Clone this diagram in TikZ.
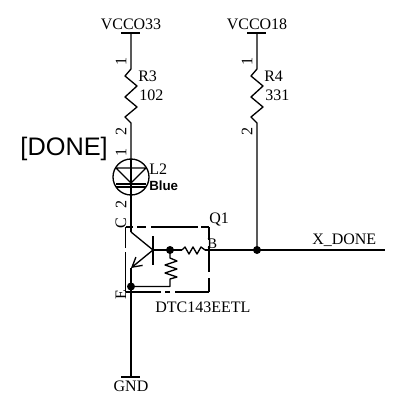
\documentclass[tikz,border=0pt]{standalone}
\usepackage{fontspec}
\setmainfont{Liberation Serif}
\newfontfamily\arialf{Liberation Sans}
\usetikzlibrary{arrows.meta}
\begin{document}
\begin{tikzpicture}[x=0.75pt,y=-0.75pt,line cap=butt,
  wire/.style={line width=1pt,black},
  boxline/.style={line width=0.9pt,black},
  lbl/.style={font=\fontsize{12}{13}\selectfont,inner sep=0pt,anchor=base west},
  pin/.style={font=\fontsize{12}{13}\selectfont,inner sep=0pt,rotate=90},
  junction/.style={circle,fill=black,inner sep=0pt,minimum size=6pt}]
\useasboundingbox (0,0) rectangle (398,406);
% named points
\coordinate (v33) at (131,33);
\coordinate (v18) at (257,33);
\coordinate (r3t) at (131,69);
\coordinate (r4t) at (257,69);
\coordinate (ledc) at (131,177);
\coordinate (col) at (131,232);
\coordinate (colb) at (153,250);
\coordinate (emt) at (131,268);
\coordinate (gnd) at (131,377);
\coordinate (net) at (385,250);
\coordinate (rh1) at (182,250);
\coordinate (rh2) at (205,250);
\coordinate (rv1) at (170,258);
\coordinate (rvc) at (170,286.5);
% power rails
\draw[wire] (121,33) -- (140,33);
\draw[wire] (247,33) -- (266,33);
\draw[wire] (121,377) -- (140,377);
\node[lbl,anchor=base] (nv33) at (131,30) {VCCO33};
\node[lbl,anchor=base] (nv18) at (257,30) {VCCO18};
\node[lbl,anchor=base] (ngnd) at (131,391) {GND};
% R3
\draw[wire,line join=round] (v33) -- (r3t) -- ++(-6,7) -- ++(12,10) -- ++(-12,11) -- ++(12,10) -- ++(-12,10) -- ++(6,6) -- (131,159);
% R4
\draw[wire,line join=round] (v18) -- (r4t) -- ++(-6,7) -- ++(12,10) -- ++(-12,11) -- ++(12,10) -- ++(-12,10) -- ++(6,6) -- (257,250);
\node[lbl] (r3n) at (138,82) {R3};
\node[lbl] (r3v) at (139,101) {102};
\node[lbl] (r4n) at (264,82) {R4};
\node[lbl] (r4v) at (265,101) {331};
\node[pin] (p31) at (121,62) {1};
\node[pin] (p32) at (121,132) {2};
\node[pin] (p41) at (247,62) {1};
\node[pin] (p42) at (247,132) {2};
% LED
\node[inner sep=0pt,anchor=base east,font=\arialf\fontsize{19}{21}\selectfont] (done) at (108,155) {[DONE]};
\node[pin] (pl1) at (121,152) {1};
\node[pin] (pl2) at (121,204) {2};
\node[pin] (pc) at (121,223) {C};
\draw[wire] (ledc) circle (18);
\draw[wire] (131,159) -- (col);
\draw[wire,line join=round] (116,168) -- (146,168) -- (131,183) -- cycle;
\draw[wire] (116,184) -- (146,184);
\draw[wire] (116,187) -- (146,187);
\node[lbl] (l2) at (149,174) {L2};
\node[inner sep=0pt,anchor=base west,font=\arialf\bfseries\fontsize{10}{11}\selectfont] (blue) at (149,190) {Blue};
% Q1 box, its gaps as printed
\draw[boxline] (125.5,227) -- (133,227) (137,227) -- (146,227) (151,227) -- (198,227) (201,227) -- (209,227)
  (209,227) -- (209,240) (209,246) -- (209,272) (209,278) -- (209,292)
  (209,292) -- (175,292) (170,292) -- (165,292) (161,292) -- (125.5,292)
  (125.5,292) -- (125.5,252) (125.5,248) -- (125.5,227);
\node[lbl] (q1) at (209,223) {Q1};
\node[lbl,font=\fontsize{11}{12}\selectfont] (b) at (207,248) {B};
\node[pin] (pe) at (121,295) {E};
\node[lbl] (dtc) at (155,312) {DTC143EETL};
% transistor
\draw[wire] (col) -- (colb);
\draw[line width=2pt] (153,236) -- (153,265);
\draw[wire,-{Straight Barb[length=7pt,width=8pt]}] (colb) -- (emt);
\draw[wire] (emt) -- (131,286.5);
\draw[wire] (colb) -- (rh1);
\draw[wire,line join=round] (rh1) -- ++(3,-3) -- ++(4,7) -- ++(4,-7) -- ++(4,7) -- ++(4,-7) -- ++(4,3) -- (rh2);
\draw[wire] (rh2) -- (net);
\draw[wire,line join=round] (170,250) -- (rv1) -- ++(7,3) -- ++(-12,4) -- ++(12,4) -- ++(-12,4) -- ++(12,4) -- ++(-7,2) -- (rvc) -- (131,286.5);
\draw[wire] (131,286.5) -- (gnd);
\node[junction] (j1) at (170,250) {};
\node[junction] (j2) at (131,286.5) {};
\node[junction] (j3) at (257,250) {};
\node[lbl] (xd) at (312,244) {X\_DONE};
\end{tikzpicture}
\end{document}
